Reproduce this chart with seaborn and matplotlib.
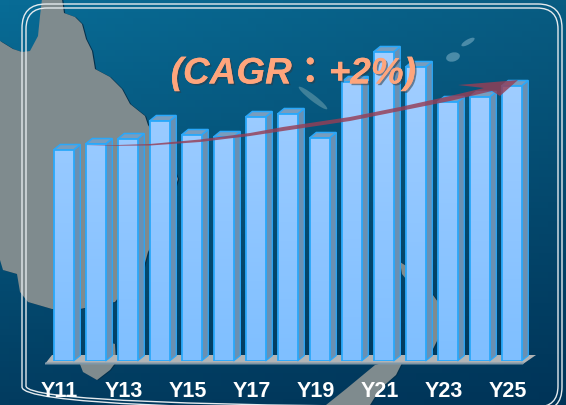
import numpy as np
import pandas as pd
import matplotlib
matplotlib.use("Agg")
import matplotlib.pyplot as plt
import matplotlib.patheffects as pe
from matplotlib.patches import Polygon, Ellipse, FancyBboxPatch
from matplotlib.transforms import ScaledTranslation
from matplotlib.colors import LinearSegmentedColormap
import seaborn as sns

years = ["Y11", "Y12", "Y13", "Y14", "Y15", "Y16", "Y17", "Y18",
         "Y19", "Y20", "Y21", "Y22", "Y23", "Y24", "Y25"]
values = [211, 217, 222, 240, 226, 224, 244, 247, 223, 279, 309, 294, 259, 264, 275]
shown_labels = ["Y11", "Y13", "Y15", "Y17", "Y19", "Y21", "Y23", "Y25"]
title_text = "(CAGR\uff1a+2%)"

sns.set_theme(style="white")
plt.rcParams["font.family"] = ["Liberation Sans", "Noto Sans CJK TC", "DejaVu Sans"]

W, H = 566, 406
fig = plt.figure(figsize=(W / 100, H / 100), dpi=100)

# ---- background layer, in pixel units
bg = fig.add_axes([0, 0, 1, 1])
bg.set_xlim(0, W)
bg.set_ylim(H, 0)
bg.axis("off")

tl, tr = np.array([8, 108, 150]), np.array([8, 92, 130])
bl, br = np.array([2, 60, 96]), np.array([0, 52, 88])
v = np.linspace(0, 1, 64)[:, None, None]
u = np.linspace(0, 1, 64)[None, :, None]
grad = ((1 - v) * ((1 - u) * tl + u * tr) + v * ((1 - u) * bl + u * br)) / 255
bg.imshow(grad, extent=(0, W, H, 0), aspect="auto", zorder=0)

land_color = "#7f8b8e"
shadow = "#04304c"
coast_main = [(0, 42), (13, 50), (22, 53), (30, 52), (38, 37), (40, 17), (42, 0), (62, 0),
              (64, 14), (75, 18), (82, 25), (86, 40), (92, 52), (95, 70), (110, 78),
              (122, 90), (130, 105), (145, 117), (148, 126), (170, 160), (178, 180),
              (165, 220), (148, 253), (143, 271), (125, 290), (115, 303), (80, 310),
              (52, 310), (28, 303), (20, 293), (17, 275), (3, 271), (0, 261)]
coast_south = [(108, 343), (115, 345), (116, 363), (110, 371), (97, 381), (83, 373), (78, 360)]
coast_ne = [(400, 263), (408, 268), (425, 285), (438, 303), (438, 340), (432, 352),
            (426, 345), (425, 300), (410, 285), (402, 275)]
coast_se = [(326, 406), (346, 390), (375, 366), (405, 358), (396, 376), (380, 390), (370, 406)]
for pts in (coast_main, coast_south, coast_ne, coast_se):
    shifted = [(a + 1.2, b + 0.4) for a, b in pts]
    bg.add_patch(Polygon(shifted, closed=True, fc=shadow, ec="none", zorder=1))
    bg.add_patch(Polygon(pts, closed=True, fc=land_color, ec="none", zorder=2))

bg.add_patch(Ellipse((313, 99), 36, 6, angle=38, fc="#3f8099", ec="none", zorder=2))
bg.add_patch(Ellipse((453, 58), 14, 9, angle=-15, fc="#4a8ba8", ec="none", zorder=2))
bg.add_patch(Ellipse((468, 43), 15, 5, angle=-30, fc="#4a8ba8", ec="none", zorder=2))

for x0, y0, x1, y1, r in [(22, 5, 562, 412, 24), (26, 9, 558, 408, 21)]:
    bg.add_patch(FancyBboxPatch((x0, y0), x1 - x0, y1 - y0,
                                boxstyle=f"round,pad=0,rounding_size={r}",
                                fc="none", ec="#e4eaee", lw=1.0, zorder=3))

bg.add_patch(Polygon([(52, 356), (536, 356), (523, 365), (45, 365)], closed=True,
                     fc="#b2b4b5", ec="none", zorder=3))
bg.add_patch(Polygon([(45, 363.5), (524, 363.5), (523, 365.5), (45, 365.5)], closed=True,
                     fc="#7f98a8", ec="none", zorder=3))

# ---- chart layer
ax = fig.add_axes([47.5 / W, (H - 362) / H, 480 / W, 320 / H])
ax.patch.set_alpha(0)
df = pd.DataFrame({"year": years, "value": values})
sns.barplot(data=df, x="year", y="value", color="#8cc6ff", saturation=1,
            width=0.625, ax=ax, zorder=4)

edge = "#2aa8fa"
dx, dy = 6.8 / 32, 5.5
cmap = LinearSegmentedColormap.from_list("bar", ["#7fbfff", "#a4cfff"])
ymax = 320
for p in list(ax.patches):
    x0, w, h = p.get_x(), p.get_width(), p.get_height()
    x1 = x0 + w
    ax.add_patch(Polygon([(x1, 0), (x1 + dx, dy), (x1 + dx, h + dy), (x1, h)], closed=True,
                         fc="#6a90b2", ec=edge, lw=0.9, zorder=3, clip_on=False))
    ax.add_patch(Polygon([(x0, h), (x0 + dx, h + dy), (x1 + dx, h + dy), (x1, h)], closed=True,
                         fc="#789dbe", ec=edge, lw=1.1, zorder=3, clip_on=False))
    g = np.linspace(h / ymax, 0, 64)[:, None]
    ax.imshow(g, cmap=cmap, vmin=0, vmax=1, extent=(x0, x1, 0, h), aspect="auto", zorder=4.5)
    p.set_facecolor("none")
    p.set_edgecolor(edge)
    p.set_linewidth(1.3)
    p.set_zorder(5)

ax.set_xlim(-0.5, 14.5)
ax.set_ylim(0, ymax)
ax.set_xticks([years.index(s) for s in shown_labels])
ax.set_xticklabels(shown_labels, color="white", fontweight="bold", fontsize=15.5)
ax.set_yticks([])
ax.set_xlabel("")
ax.set_ylabel("")
ax.tick_params(axis="x", length=0, pad=13.5)
shift = ScaledTranslation(-4 / 100, 0, fig.dpi_scale_trans)
for lab in ax.get_xticklabels():
    lab.set_transform(lab.get_transform() + shift)
for s in ax.spines.values():
    s.set_visible(False)

# ---- overlay: trend arrow and title
ov = fig.add_axes([0, 0, 1, 1])
ov.set_xlim(0, W)
ov.set_ylim(H, 0)
ov.axis("off")
arrow_pts = [(85, 147), (150, 145), (200, 140.5), (250, 134), (283, 128), (350, 118),
             (400, 108), (450, 97), (484, 89), (458, 86), (518, 81), (500, 97), (492, 92),
             (450, 102), (400, 112), (350, 122), (283, 132), (250, 137), (200, 143), (150, 146.5)]
ov.add_patch(Polygon(arrow_pts, closed=True, fc="#963e56", ec="none", alpha=0.82, zorder=6))

ov.text(293, 75, title_text, color="#ffa57c", fontsize=26.6, fontweight="bold", fontstyle="italic",
        ha="center", va="center", zorder=7,
        path_effects=[pe.withSimplePatchShadow(offset=(1.2, -1.2), shadow_rgbFace="#303a44", alpha=0.55),
                      pe.Normal()])

fig.savefig("out.png", dpi=100)
